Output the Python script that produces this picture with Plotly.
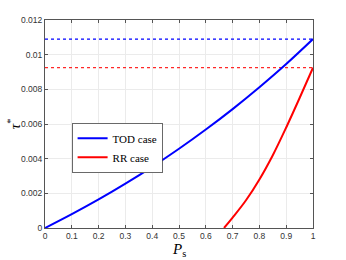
import plotly.graph_objects as go

# P_s samples and read-off curve values
ps_tod = [0.0, 0.1, 0.2, 0.3, 0.4, 0.5, 0.6, 0.7, 0.8, 0.9, 1.0]
tau_tod = [0.0, 0.0008, 0.00165, 0.00256, 0.00353, 0.00457, 0.00568, 0.00686, 0.00812, 0.00946, 0.0109]

ps_rr = [0.668, 0.7, 0.75, 0.8, 0.85, 0.9, 0.95, 1.0]
tau_rr = [0.0, 0.0006, 0.0016, 0.0028, 0.0042, 0.0058, 0.0075, 0.00925]

x_ticks = [0, 0.1, 0.2, 0.3, 0.4, 0.5, 0.6, 0.7, 0.8, 0.9, 1]
y_ticks = [0, 0.002, 0.004, 0.006, 0.008, 0.01, 0.012]

fig = go.Figure()

# dotted reference lines at each curve's maximum
fig.add_trace(go.Scatter(x=[0, 1], y=[max(tau_tod)] * 2, mode="lines",
                         line=dict(color="blue", width=1.2, dash="dot"), showlegend=False))
fig.add_trace(go.Scatter(x=[0, 1], y=[max(tau_rr)] * 2, mode="lines",
                         line=dict(color="rgb(255,40,40)", width=1.2, dash="dot"), showlegend=False))

fig.add_trace(go.Scatter(x=ps_tod, y=tau_tod, mode="lines", name="TOD case",
                         line=dict(color="blue", width=2, shape="spline")))
fig.add_trace(go.Scatter(x=ps_rr, y=tau_rr, mode="lines", name="RR case",
                         line=dict(color="red", width=2, shape="spline")))

axis_style = dict(
    showline=True, linecolor="#555", linewidth=1, mirror="ticks",
    ticks="inside", ticklen=3, tickcolor="#555",
    showgrid=True, gridcolor="#ebebeb", gridwidth=1, zeroline=False,
    tickfont=dict(family="Liberation Sans", size=8.5, color="#333"),
)

fig.update_xaxes(range=[0, 1], tickvals=x_ticks, **axis_style)
fig.update_yaxes(range=[0, 0.012], tickvals=y_ticks, **axis_style)

fig.update_layout(
    width=346, height=260,
    margin=dict(l=45, r=33, t=20, b=32),
    plot_bgcolor="white", paper_bgcolor="white",
    legend=dict(x=0.1, y=0.505, xanchor="left", yanchor="top",
                bgcolor="white", bordercolor="#444", borderwidth=0.8,
                font=dict(family="Liberation Serif", size=11, color="black"),
                tracegroupgap=0, itemwidth=30),
    annotations=[
        dict(text="<i>P</i><sub>s</sub>", x=0.5, y=-0.105, xref="paper", yref="paper",
             xanchor="center", yanchor="middle", showarrow=False,
             font=dict(family="Liberation Serif", size=15, color="black")),
        dict(text="<i>τ</i><sup>*</sup>", x=-0.115, y=0.5, xref="paper", yref="paper",
             xanchor="center", yanchor="middle", showarrow=False, textangle=-90,
             font=dict(family="Liberation Serif", size=15, color="black")),
    ],
)

fig.write_html("out.html", config={"displayModeBar": False},
               post_script="document.body.style.margin='0';")
